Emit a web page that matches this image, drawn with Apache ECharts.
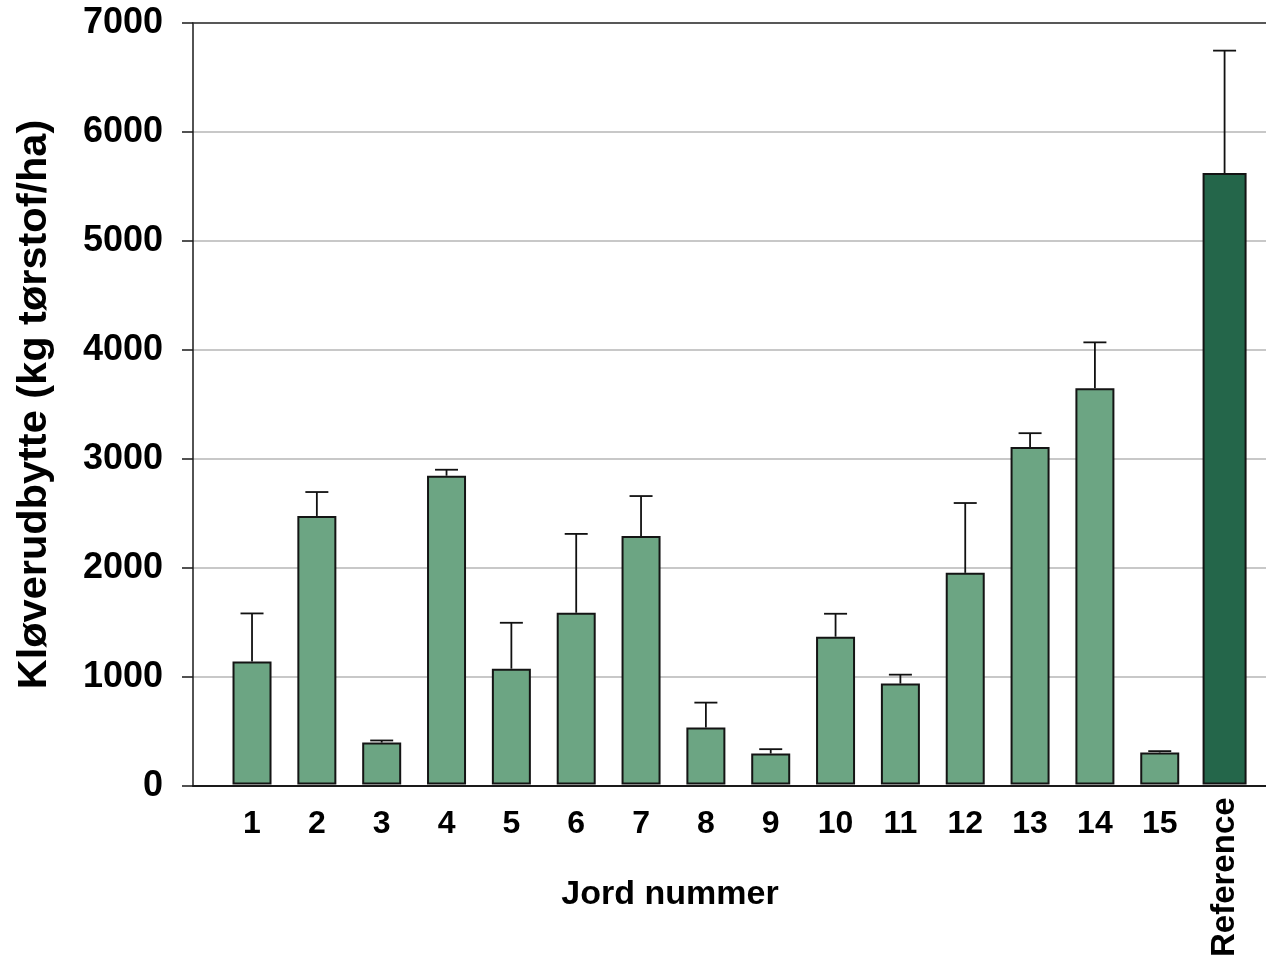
<!DOCTYPE html>
<html>
<head>
<meta charset="utf-8">
<style>
  html, body { margin: 0; padding: 0; background: #ffffff; }
  #chart { width: 1266px; height: 960px; }
</style>
<script src="https://cdn.jsdelivr.net/npm/echarts@6/dist/echarts.min.js"></script>
</head>
<body>
<div id="chart"></div>
<script>
// Clover yield per soil (kg dry matter/ha) with upper error bars
const categories = ['1', '2', '3', '4', '5', '6', '7', '8', '9', '10', '11', '12', '13', '14', '15', 'Reference'];
const soilMeans = [1131, 2468, 385, 2838, 1064, 1578, 2284, 523, 284, 1358, 927, 1945, 3101, 3642, 294];
const soilErrors = [441, 220, 19, 55, 422, 725, 367, 229, 40, 211, 82, 642, 128, 422, 12];
const referenceMean = 5621;
const referenceError = 1125;
const yTicks = [0, 1000, 2000, 3000, 4000, 5000, 6000, 7000];

const FONT = "'Liberation Sans', Arial, sans-serif";
const Y_MIN = yTicks[0];
const Y_MAX = yTicks[yTicks.length - 1];
const Y_STEP = yTicks[1] - yTicks[0];

const soilBars = soilMeans.concat(['-']);
const refBars = soilMeans.map(() => '-').concat([referenceMean]);
const errorData = soilMeans.map((m, i) => [i, m, m + soilErrors[i]])
  .concat([[soilMeans.length, referenceMean, referenceMean + referenceError]]);

const chart = echarts.init(document.getElementById('chart'), null, { renderer: 'canvas' });

chart.setOption({
  backgroundColor: '#ffffff',
  animation: false,
  grid: [
    // frame: value axis, grid lines, baseline and top border
    { left: 193, right: 0, top: 23, height: 763 },
    // bars and category labels
    { left: 219.6, right: 9, top: 23, height: 763 }
  ],
  xAxis: [
    {
      gridIndex: 0, type: 'value', min: 0, max: 1, position: 'bottom',
      axisLine: { show: true, lineStyle: { color: '#1a1a1a', width: 2 } },
      axisTick: { show: false }, axisLabel: { show: false }, splitLine: { show: false },
      name: 'Jord nummer', nameLocation: 'middle', nameGap: 92,
      nameTextStyle: { fontFamily: FONT, fontWeight: 'bold', fontSize: 34, color: '#000', padding: [0, 119, 0, 0] }
    },
    {
      gridIndex: 0, type: 'value', min: 0, max: 1, position: 'top',
      axisLine: { show: true, lineStyle: { color: '#333333', width: 1.5 } },
      axisTick: { show: false }, axisLabel: { show: false }, splitLine: { show: false }
    },
    {
      gridIndex: 1, type: 'category', data: categories, position: 'bottom',
      axisLine: { show: false }, axisTick: { show: false }, splitLine: { show: false },
      axisLabel: {
        interval: 0, margin: 24,
        fontFamily: FONT, fontWeight: 'bold', fontSize: 32, color: '#000',
        formatter: (v, i) => (i === categories.length - 1 ? '' : v)
      }
    },
    {
      gridIndex: 1, type: 'category', data: categories, position: 'bottom',
      axisLine: { show: false }, axisTick: { show: false }, splitLine: { show: false },
      axisLabel: {
        interval: 0, margin: 13, rotate: 90,
        fontFamily: FONT, fontWeight: 'bold', fontSize: 33, color: '#000',
        formatter: (v, i) => (i === categories.length - 1 ? v : '')
      }
    }
  ],
  yAxis: [
    {
      gridIndex: 0, type: 'value', min: Y_MIN, max: Y_MAX, interval: Y_STEP,
      axisLine: { show: true, lineStyle: { color: '#1a1a1a', width: 1.5 } },
      axisTick: { show: true, inside: false, length: 11, lineStyle: { color: '#1a1a1a', width: 1.5 } },
      axisLabel: {
        margin: 30, fontFamily: FONT, fontWeight: 'bold', fontSize: 36, color: '#000',
        padding: [3, 0, 0, 0],
        formatter: (v) => String(v)
      },
      splitLine: { show: true, lineStyle: { color: '#c8c8c8', width: 2 } },
      name: 'Kløverudbytte (kg tørstof/ha)', nameLocation: 'middle', nameGap: 137,
      nameTextStyle: { fontFamily: FONT, fontWeight: 'bold', fontSize: 41.5, color: '#000' }
    },
    {
      gridIndex: 1, type: 'value', min: Y_MIN, max: Y_MAX, show: false
    }
  ],
  series: [
    {
      name: 'Jord', type: 'bar', xAxisIndex: 2, yAxisIndex: 1,
      data: soilBars, barWidth: 39,
      itemStyle: { color: '#6ca583', borderColor: '#141414', borderWidth: 2 }
    },
    {
      name: 'Reference', type: 'bar', xAxisIndex: 3, yAxisIndex: 1,
      data: refBars, barWidth: 44,
      itemStyle: { color: '#24664a', borderColor: '#141414', borderWidth: 2 }
    },
    {
      name: 'Fejl', type: 'custom', xAxisIndex: 2, yAxisIndex: 1, z: 5,
      data: errorData,
      renderItem: function (params, api) {
        const idx = api.value(0);
        const base = api.coord([idx, api.value(1)]);
        const top = api.coord([idx, api.value(2)]);
        const half = 11.5;
        const style = { stroke: '#111111', lineWidth: 1.8 };
        return {
          type: 'group',
          children: [
            { type: 'line', shape: { x1: base[0], y1: base[1], x2: top[0], y2: top[1] }, style: style },
            { type: 'line', shape: { x1: top[0] - half, y1: top[1], x2: top[0] + half, y2: top[1] }, style: style }
          ]
        };
      }
    }
  ]
});
</script>
</body>
</html>
